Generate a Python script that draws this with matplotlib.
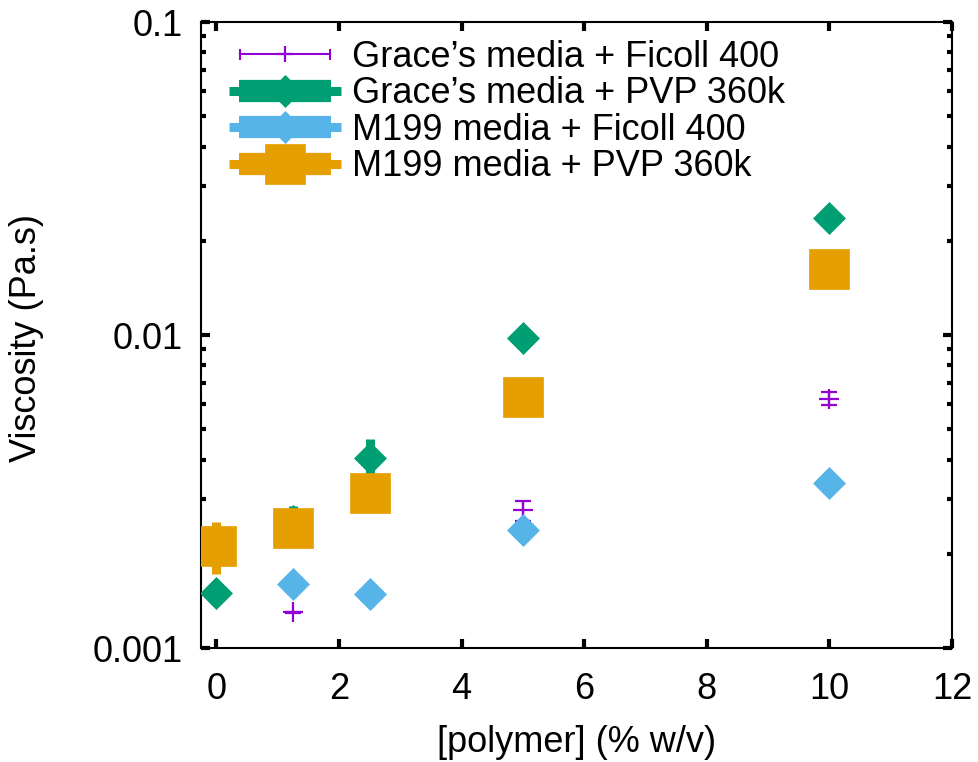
import matplotlib
matplotlib.use("Agg")
import matplotlib.pyplot as plt
from matplotlib.lines import Line2D
from matplotlib.legend_handler import HandlerBase
from matplotlib.ticker import LogLocator, FixedLocator, FixedFormatter, NullLocator, NullFormatter

plt.rcParams['font.family'] = ['Liberation Sans', 'DejaVu Sans']

# ---------------- data ----------------
labels = ["Grace\u2019s media + Ficoll 400", "Grace\u2019s media + PVP 360k",
          "M199 media + Ficoll 400", "M199 media + PVP 360k"]
colors = ["#9400D3", "#009E73", "#56B4E9", "#E69F00"]

x_grace_ficoll = [0, 1.25, 2.5, 5, 10]
y_grace_ficoll = [0.0015, 0.0013, 0.0015, 0.00275, 0.00626]
e_grace_ficoll = [0.00005, 0.000005, 0.00005, 0.0002, 0.0003]

x_grace_pvp = [0, 1.25, 2.5, 5, 10]
y_grace_pvp = [0.0015, 0.00255, 0.00404, 0.0098, 0.0237]
e_grace_pvp = [0.0001, 0.0003, 0.0006, 0.0005, 0.001]

x_m199_ficoll = [0, 1.25, 2.5, 5, 10]
y_m199_ficoll = [0.0021, 0.0016, 0.00149, 0.00239, 0.00336]
e_m199_ficoll = [0.0001, 0.0001, 0.0001, 0.0001, 0.0001]

x_m199_pvp = [0, 1.25, 2.5, 5, 10]
y_m199_pvp = [0.00212, 0.00241, 0.00312, 0.00632, 0.0163]
e_m199_pvp = [0.0004, 0.0002, 0.0003, 0.0005, 0.001]

xticks = [0, 2, 4, 6, 8, 10, 12]
yticks = [0.001, 0.01, 0.1]
yticklabels = ["0.001", "0.01", "0.1"]

FS = 26

# ---------------- figure ----------------
W, H = 979, 762
fig = plt.figure(figsize=(W / 100, H / 100), dpi=100)
L, R, T, B = 201, 952, 22, 648
ax = fig.add_axes([L / W, 1 - B / H, (R - L) / W, (B - T) / H])

ax.errorbar(x_grace_ficoll, y_grace_ficoll, yerr=e_grace_ficoll, fmt='+', color=colors[0],
            ms=14, mew=1.6, elinewidth=1.6, capsize=6, capthick=1.6, zorder=2)
ax.errorbar(x_grace_pvp, y_grace_pvp, yerr=e_grace_pvp, fmt='D', color=colors[1],
            ms=16.5, mew=0.5, elinewidth=6.5, capsize=0, zorder=3)
ax.errorbar(x_m199_ficoll, y_m199_ficoll, yerr=e_m199_ficoll, fmt='D', color=colors[2],
            ms=16.5, mew=0.5, elinewidth=6.5, capsize=0, zorder=4)
ax.errorbar(x_m199_pvp, y_m199_pvp, yerr=e_m199_pvp, fmt='s', color=colors[3],
            ms=28.5, mew=0.5, elinewidth=6.5, capsize=0, zorder=5)

ax.set_yscale('log')
ax.set_xlim(-0.25, 12)
ax.set_ylim(0.001, 0.1)

ax.xaxis.set_major_locator(FixedLocator(xticks))
ax.xaxis.set_minor_locator(NullLocator())
ax.yaxis.set_major_locator(FixedLocator(yticks))
ax.yaxis.set_major_formatter(FixedFormatter(yticklabels))
ax.yaxis.set_minor_locator(LogLocator(base=10, subs=range(2, 10)))
ax.yaxis.set_minor_formatter(NullFormatter())

for s in ax.spines.values():
    s.set_linewidth(1.5)
ax.tick_params(which='major', direction='in', length=6.5, width=3, top=True, right=True,
               labelsize=FS)
ax.tick_params(which='minor', direction='in', length=3.5, width=3, top=True, right=True)
ax.tick_params(axis='y', which='major', pad=13)
ax.tick_params(axis='x', which='major', pad=17.5)

ax.set_xlabel("[polymer] (% w/v)", fontsize=FS)
ax.xaxis.set_label_coords(0.5, (B - 725) / (B - T))
ax.set_ylabel("Viscosity (Pa.s)", fontsize=FS)
ax.yaxis.set_label_coords((44 - L) / (R - L), 0.495)


# ---------------- legend (gnuplot-like errorbar keys) ----------------
class ErrKey(HandlerBase):
    def __init__(self, color, kind, marker, ms):
        super().__init__()
        self.color, self.kind, self.marker, self.ms = color, kind, marker, ms

    def create_artists(self, legend, orig_handle, xdescent, ydescent, width, height,
                       fontsize, trans):
        x0 = -xdescent
        x1 = x0 + width
        xc = (x0 + x1) / 2
        yc = -ydescent + height / 2
        arts = []
        if self.kind == 'thin':
            d = 8
            arts.append(Line2D([x0 + d, x1 - d], [yc, yc], color=self.color, lw=1.5))
            for xx in (x0 + d, x1 - d):
                arts.append(Line2D([xx, xx], [yc - 3.5, yc + 3.5], color=self.color, lw=1.5))
            arts.append(Line2D([xc], [yc], marker='+', ms=12, mew=1.6, color=self.color,
                               linestyle='none'))
        else:
            d = 7
            arts.append(Line2D([x0, x1], [yc, yc], color=self.color, lw=6.5,
                               solid_capstyle='butt'))
            arts.append(Line2D([x0 + d, x1 - d], [yc, yc], color=self.color, lw=16,
                               solid_capstyle='butt'))
            arts.append(Line2D([xc], [yc], marker=self.marker, ms=self.ms, mew=0.5,
                               color=self.color, linestyle='none'))
        for a in arts:
            a.set_transform(trans)
        return arts


proxies = [Line2D([], []) for _ in labels]
hmap = {
    proxies[0]: ErrKey(colors[0], 'thin', '+', 12),
    proxies[1]: ErrKey(colors[1], 'thick', 'D', 16.5),
    proxies[2]: ErrKey(colors[2], 'thick', 'D', 16.5),
    proxies[3]: ErrKey(colors[3], 'thick', 's', 28.5),
}
leg = ax.legend(proxies, labels, handler_map=hmap, loc='upper left',
                bbox_to_anchor=(229 / W, 1 - 40 / H), bbox_transform=fig.transFigure,
                frameon=False, fontsize=FS, handlelength=3.1, handletextpad=0.3,
                labelspacing=0.04, borderpad=0, borderaxespad=0)

fig.savefig("out.png", dpi=100)
